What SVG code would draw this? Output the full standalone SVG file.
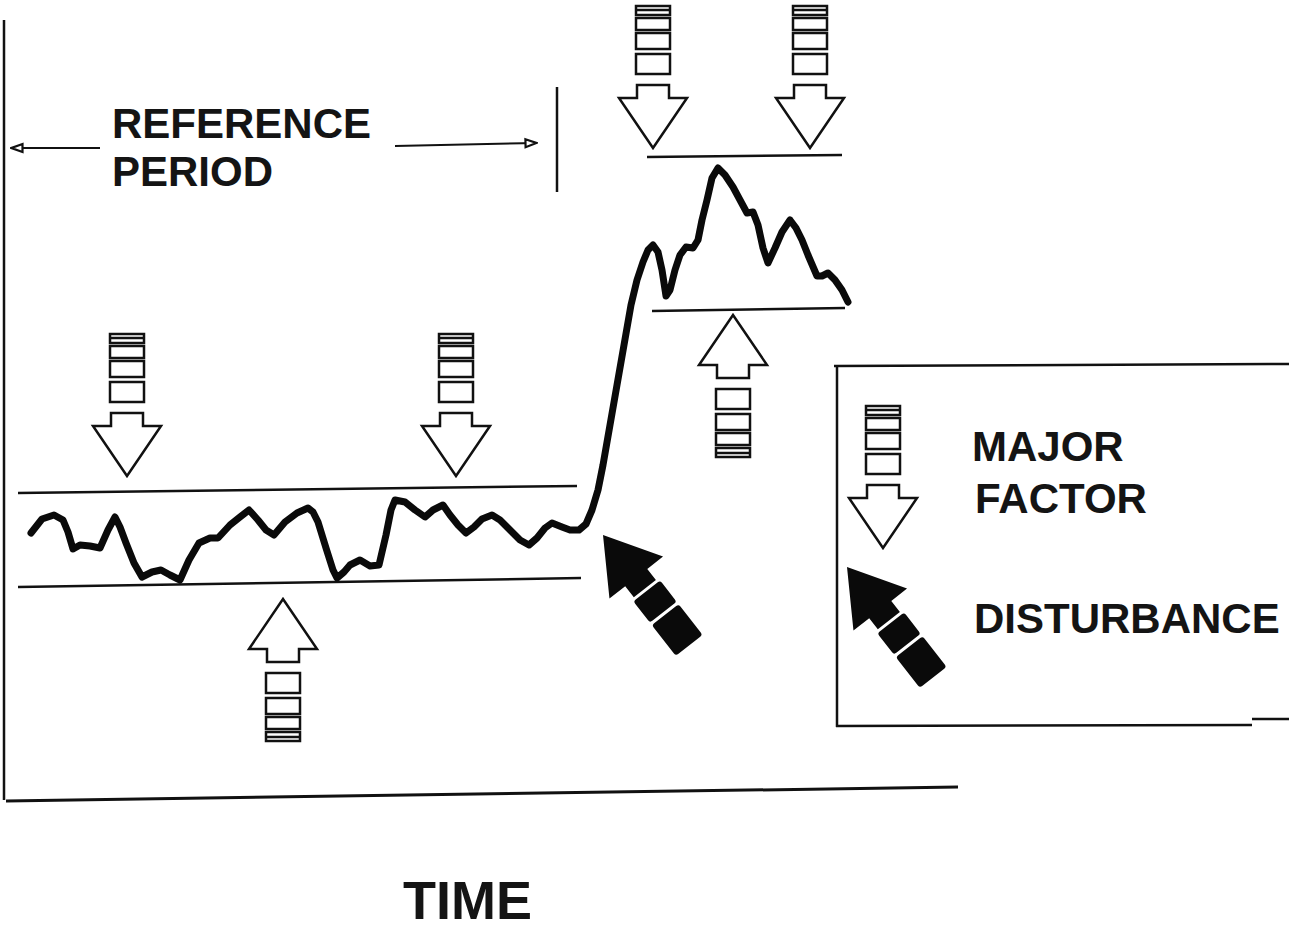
<svg xmlns="http://www.w3.org/2000/svg" width="1289" height="932" viewBox="0 0 1289 932">
<style>
.ln{stroke:#111;stroke-width:2.5;fill:none}
.mf{stroke:#111;stroke-width:2.5;fill:#fff;stroke-linejoin:miter}
.ds{fill:#0a0a0a;stroke:none}
.tx{font-family:"Liberation Sans",Arial,sans-serif;font-weight:bold;fill:#141414}
.wave{stroke:#0a0a0a;stroke-width:7;fill:none;stroke-linejoin:round;stroke-linecap:round}
</style>
<defs>
<marker id="oa" viewBox="0 0 14 12" refX="13" refY="6" markerWidth="14" markerHeight="12" markerUnits="userSpaceOnUse" orient="auto">
<path d="M1.5,2 L12.5,6 L1.5,10 Z" fill="#fff" stroke="#111" stroke-width="2.2"/>
</marker>
<g id="mfsym" class="mf">
<rect x="-17" y="-79" width="34" height="9"/>
<line x1="-17" y1="-75" x2="17" y2="-75"/>
<rect x="-17" y="-67" width="34" height="12"/>
<rect x="-17" y="-52" width="34" height="16"/>
<rect x="-17" y="-31" width="34" height="20"/>
<path d="M-16,0 H16 V13 H34 L0,63 L-34,13 H-16 Z"/>
</g>
<g id="dssym" class="ds">
<path d="M0,0 L34,54 L14,54 L14,68 L-14,68 L-14,54 L-34,54 Z"/>
<rect x="-17" y="71" width="34" height="27" rx="3"/>
<rect x="-17" y="101" width="34" height="39" rx="3"/>
</g>
</defs>
<rect width="1289" height="932" fill="#fff"/>

<g id="frame">
<line class="ln" x1="4" y1="20" x2="4" y2="800"/>
<line class="ln" x1="6" y1="801" x2="958" y2="787" style="stroke-width:3"/>
</g>

<g id="connectors">
<line class="ln" x1="100" y1="148" x2="11" y2="148" marker-end="url(#oa)" style="stroke-width:2"/>
<line class="ln" x1="395" y1="146" x2="537" y2="143" marker-end="url(#oa)" style="stroke-width:2"/>
<line class="ln" x1="557" y1="87" x2="557" y2="192"/>
</g>

<g id="reference-period">
<text class="tx" x="112" y="138" font-size="42">REFERENCE</text>
<text class="tx" x="112" y="186" font-size="42">PERIOD</text>
</g>

<g id="bands">
<line class="ln" x1="18" y1="493" x2="577" y2="486"/>
<line class="ln" x1="18" y1="587" x2="581" y2="578"/>
<line class="ln" x1="647" y1="157" x2="842" y2="155"/>
<line class="ln" x1="652" y1="311" x2="845" y2="308"/>
</g>

<g id="signal">
<polyline class="wave" points="31,533 42,519 54,515 63,520 68,532 73,549 80,545 90,546 100,548 108,530 115,517 120,527 126,543 134,563 142,577 152,572 161,570 170,575 180,580 189,560 199,543 210,538 218,538 230,525 240,517 249,510 258,520 266,530 274,535 285,522 297,513 308,508 313,512 318,522 326,548 333,570 337,578 344,572 350,565 360,560 370,566 379,565 386,535 391,510 395,500 405,502 415,510 425,517 433,510 443,505 450,515 458,525 466,533 474,527 482,519 492,515 500,520 510,530 520,540 529,545 537,538 545,528 552,523 562,527 570,530 579,530 586,524 592,510 598,490 603,465 610,425 617,385 624,345 631,305 637,280 643,262 648,250 653,245 658,252 662,270 666,296 670,290 675,270 680,255 686,247 693,248 698,240 702,220 707,200 712,178 718,168 725,175 733,187 740,200 747,213 753,212 758,225 763,248 768,263 775,248 782,232 790,220 796,228 802,240 808,255 817,276 822,276 828,273 835,280 842,290 848,302"/>
</g>

<g id="factor-1"><use href="#mfsym" transform="translate(127,413)"/></g>
<g id="factor-2"><use href="#mfsym" transform="translate(456,413)"/></g>
<g id="factor-3"><use href="#mfsym" transform="translate(653,85)"/></g>
<g id="factor-4"><use href="#mfsym" transform="translate(810,85)"/></g>
<g id="factor-up-1"><use href="#mfsym" transform="translate(283,662) scale(1,-1)"/></g>
<g id="factor-up-2"><use href="#mfsym" transform="translate(733,378) scale(1,-1)"/></g>
<g id="disturbance-1"><use href="#dssym" transform="translate(603,535) rotate(-38)"/></g>

<g id="legend">
<line class="ln" x1="834" y1="366" x2="1289" y2="364"/>
<line class="ln" x1="837" y1="365" x2="837" y2="727"/>
<line class="ln" x1="836" y1="726" x2="1252" y2="725"/>
<line class="ln" x1="1252" y1="719" x2="1289" y2="719"/>
<use href="#mfsym" transform="translate(883,485)"/>
<use href="#dssym" transform="translate(847,567) rotate(-38)"/>
<text class="tx" x="972" y="461" font-size="42">MAJOR</text>
<text class="tx" x="975" y="513" font-size="42">FACTOR</text>
<text class="tx" x="974" y="633" font-size="42">DISTURBANCE</text>
</g>

<g id="axis-label">
<text class="tx" x="403" y="919" font-size="54">TIME</text>
</g>
</svg>
